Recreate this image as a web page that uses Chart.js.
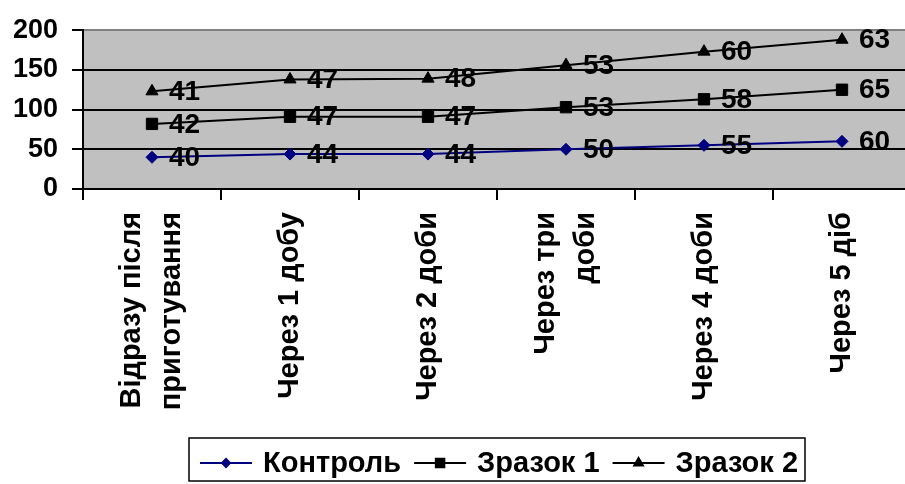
<!DOCTYPE html>
<html>
<head>
<meta charset="utf-8">
<script src="https://cdn.jsdelivr.net/npm/chart.js@4.4.1/dist/chart.umd.min.js"></script>
<style>
    html, body { margin: 0; padding: 0; background: #fff; overflow: hidden; }
    #wrap { position: relative; width: 920px; height: 484px; }
</style>
</head>
<body>
<div id="wrap"><canvas id="chart"></canvas></div>
<script>
const categories = [
    ['Відразу після', 'приготування'],
    'Через 1 добу',
    'Через 2 доби',
    ['Через три', 'доби'],
    'Через 4 доби',
    'Через 5 діб'
];
const seriesNames = ['Контроль', 'Зразок 1', 'Зразок 2'];
const control = [40, 44, 44, 50, 55, 60];
const sample1 = [42, 47, 47, 53, 58, 65];
const sample2 = [41, 47, 48, 53, 60, 63];
const yTicks = [0, 50, 100, 150, 200];

const FONT = '"Liberation Sans", Arial, sans-serif';
const colors = ['#000080', '#000000', '#000000'];
const styles = ['rectRot', 'rect', 'triangle'];
const radii = [6, 8, 7];

// grey plot area
const plotBg = {
    id: 'plotBg',
    beforeDraw(chart) {
        const { ctx, chartArea: a } = chart;
        ctx.save();
        ctx.fillStyle = '#c0c0c0';
        ctx.fillRect(a.left, a.top, a.right - a.left, a.bottom - a.top);
        ctx.restore();
    }
};

// centre two-line category labels on their tick (chart.js puts line 1 on the tick)
const centreMultiline = {
    id: 'centreMultiline',
    beforeDraw(chart) {
        const items = chart.scales.x.getLabelItems();
        items.forEach(it => {
            if (Array.isArray(it.label) && !it._moved) {
                it.options.translation[0] -= (it.label.length - 1) * it.font.lineHeight / 2;
                it._moved = true;
            }
        });
    }
};

// value labels next to points (own value, not stacked sum)
const valueLabels = {
    id: 'valueLabels',
    afterDatasetsDraw(chart) {
        const ctx = chart.ctx;
        ctx.save();
        ctx.font = 'bold 28px ' + FONT;
        ctx.fillStyle = '#000';
        ctx.textAlign = 'left';
        ctx.textBaseline = 'middle';
        chart.data.datasets.forEach((ds, i) => {
            chart.getDatasetMeta(i).data.forEach((pt, j) => {
                ctx.fillText(String(ds.data[j]), pt.x + 17, pt.y + 1);
            });
        });
        ctx.restore();
    }
};

// boxed legend with line + marker like the original
const boxLegend = {
    id: 'boxLegend',
    afterDraw(chart) {
        const ctx = chart.ctx;
        ctx.save();
        ctx.strokeStyle = '#000';
        ctx.lineWidth = 1.5;
        ctx.strokeRect(189, 438, 616, 43);
        ctx.font = 'bold 29px ' + FONT;
        ctx.textAlign = 'left';
        ctx.textBaseline = 'middle';
        const y = 463;
        let x = 200;
        seriesNames.forEach((name, i) => {
            ctx.strokeStyle = colors[i];
            ctx.fillStyle = colors[i];
            ctx.lineWidth = 2;
            ctx.beginPath();
            ctx.moveTo(x, y);
            ctx.lineTo(x + 52, y);
            ctx.stroke();
            Chart.helpers.drawPoint(ctx, { pointStyle: styles[i], radius: radii[i] - 2, rotation: 0, borderWidth: 1 }, x + 26, y);
            ctx.fillStyle = '#000';
            ctx.fillText(name, x + 63, y + 1);
            x += 63 + ctx.measureText(name).width + 13;
        });
        ctx.restore();
    }
};

const datasets = [control, sample1, sample2].map((vals, i) => ({
    label: seriesNames[i],
    data: vals,
    borderColor: colors[i],
    backgroundColor: colors[i],
    pointBackgroundColor: colors[i],
    pointBorderColor: colors[i],
    pointStyle: styles[i],
    pointRadius: radii[i],
    pointBorderWidth: 1,
    borderWidth: 2,
    tension: 0,
    fill: false
}));

new Chart(document.getElementById('chart'), {
    type: 'line',
    data: { labels: categories, datasets },
    options: {
        responsive: true,
        maintainAspectRatio: false,
        animation: false,
        layout: { padding: { left: 0, top: 29, right: 3, bottom: 0 } },
        plugins: { legend: { display: false }, tooltip: { enabled: false } },
        scales: {
            x: {
                offset: true,
                grid: { offset: true, drawOnChartArea: false, color: '#000', lineWidth: 2, tickLength: 11 },
                border: { color: '#000', width: 2 },
                ticks: {
                    autoSkip: false, minRotation: 90, maxRotation: 90, padding: 12,
                    color: '#000',
                    font: { family: FONT, size: 29, weight: 'bold', lineHeight: 1.38 }
                },
                afterFit(scale) { scale.height = 295; }
            },
            y: {
                stacked: true,
                min: 0,
                max: 200,
                afterBuildTicks(scale) { scale.ticks = yTicks.map(v => ({ value: v })); },
                grid: {
                    color: c => (c.tick && c.tick.value === 200 ? '#808080' : '#000'),
                    tickColor: '#000',
                    lineWidth: 2,
                    tickLength: 11
                },
                border: { color: '#000', width: 2 },
                ticks: {
                    padding: 14,
                    color: '#000',
                    font: { family: FONT, size: 27, weight: 'bold' }
                },
                afterFit(scale) { scale.width = 83; }
            }
        }
    },
    plugins: [plotBg, centreMultiline, valueLabels, boxLegend]
});
</script>
</body>
</html>
